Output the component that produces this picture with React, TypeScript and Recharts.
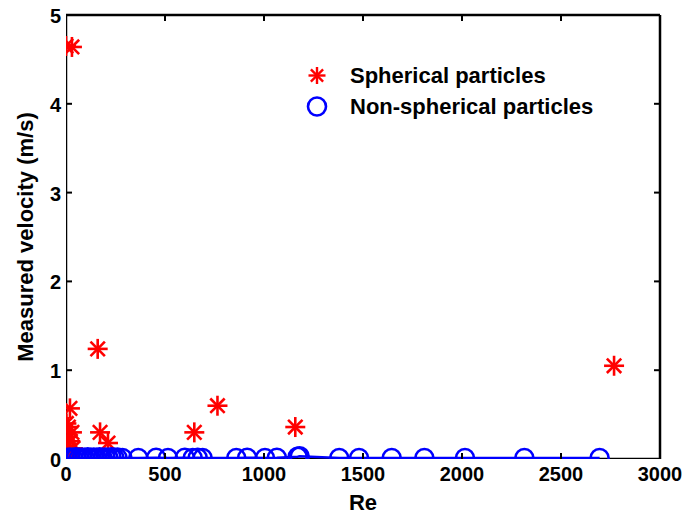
import React from 'react';
import { ScatterChart, Scatter, XAxis, YAxis, ReferenceLine, Legend } from 'recharts';

// ---- data ----
const sphericalRe = [0, 30, 20, 2, 12, 30, 8, 22, 5, 15, 35, 3, 18, 10, 160, 172, 212, 648, 765, 1158, 2768];
const sphericalVel = [4.65, 4.64, 0.57, 0.40, 0.36, 0.30, 0.25, 0.20, 0.15, 0.10, 0.12, 0.06, 0.04, 0.02, 1.24, 0.30, 0.18, 0.30, 0.60, 0.36, 1.05];

const nonSphericalRe = [5, 20, 35, 50, 65, 80, 95, 110, 125, 140, 155, 170, 185, 200, 215, 230, 245, 260, 285, 365, 455, 515, 600, 640, 665, 690, 860, 915, 1005, 1065, 1170, 1180, 1380, 1480, 1645, 1810, 2015, 2315, 2695];
const nonSphericalVel = [0.012, 0.015, 0.012, 0.02, 0.012, 0.015, 0.012, 0.02, 0.012, 0.015, 0.012, 0.02, 0.012, 0.015, 0.012, 0.02, 0.012, 0.015, 0.012, 0.012, 0.014, 0.012, 0.014, 0.012, 0.014, 0.012, 0.012, 0.014, 0.012, 0.014, 0.025, 0.03, 0.012, 0.012, 0.012, 0.012, 0.012, 0.012, 0.012];

const xTicks = [0, 500, 1000, 1500, 2000, 2500, 3000];
const yTicks = [0, 1, 2, 3, 4, 5];

// axis frame lines (bottom and left), drawn as series so data marks sit above them
const frameBottom = [{ re: 0, v: 0 }, { re: 3000, v: 0 }];
const frameLeft = [{ re: 0, v: 0 }, { re: 0, v: 5 }];

const sphericalData = sphericalRe.map((re, i) => ({ re, v: sphericalVel[i] }));
const nonSphericalData = nonSphericalRe
  .map((re, i) => ({ re, v: nonSphericalVel[i] }))
  .sort((a, b) => a.re - b.re);

// ---- layout ----
const W = 686;
const H = 518;
const MARGIN = { top: 15, right: 26, bottom: 9, left: 8 };
const Y_AXIS_W = 58;
const X_AXIS_H = 50;
const PLOT_LEFT = MARGIN.left + Y_AXIS_W;
const PLOT_RIGHT = W - MARGIN.right;
const PLOT_TOP = MARGIN.top;
const PLOT_BOTTOM = H - MARGIN.bottom - X_AXIS_H;
const TICK_LEN = 6;
const FONT = '"Liberation Sans", Arial, Helvetica, sans-serif';
const RED = '#ff0000';
const BLUE = '#0000ff';

const Asterisk = ({ cx, cy, r = 10, color = RED, sw = 2.6 }: any) => {
  const d = r * 0.72;
  return (
    <g stroke={color} strokeWidth={sw} strokeLinecap="butt">
      <line x1={cx - r} y1={cy} x2={cx + r} y2={cy} />
      <line x1={cx} y1={cy - r} x2={cx} y2={cy + r} />
      <line x1={cx - d} y1={cy - d} x2={cx + d} y2={cy + d} />
      <line x1={cx - d} y1={cy + d} x2={cx + d} y2={cy - d} />
    </g>
  );
};

const StarShape = (props: any) => <Asterisk cx={props.cx} cy={props.cy} />;
const CircleShape = (props: any) => (
  <circle cx={props.cx} cy={props.cy} r={9} fill="none" stroke={BLUE} strokeWidth={2.6} />
);
const NoShape = () => <g />;

const XTick = (props: any) => {
  const { x, y, payload } = props;
  const v = payload.value;
  const edge = v === xTicks[0] || v === xTicks[xTicks.length - 1];
  return (
    <g>
      {!edge && (
        <>
          <line x1={x} y1={PLOT_BOTTOM} x2={x} y2={PLOT_BOTTOM - TICK_LEN} stroke="#000" strokeWidth={2} />
          <line x1={x} y1={PLOT_TOP} x2={x} y2={PLOT_TOP + TICK_LEN} stroke="#000" strokeWidth={2} />
        </>
      )}
      <text x={x} y={y + 22} textAnchor="middle" fontFamily={FONT} fontWeight="bold" fontSize={20} fill="#000">
        {v}
      </text>
    </g>
  );
};

const YTick = (props: any) => {
  const { x, y, payload } = props;
  const v = payload.value;
  const edge = v === yTicks[0] || v === yTicks[yTicks.length - 1];
  return (
    <g>
      {!edge && (
        <>
          <line x1={PLOT_LEFT} y1={y} x2={PLOT_LEFT + TICK_LEN} y2={y} stroke="#000" strokeWidth={2} />
          <line x1={PLOT_RIGHT} y1={y} x2={PLOT_RIGHT - TICK_LEN} y2={y} stroke="#000" strokeWidth={2} />
        </>
      )}
      <text x={x - 5} y={y + 8} textAnchor="end" fontFamily={FONT} fontWeight="bold" fontSize={20} fill="#000">
        {v}
      </text>
    </g>
  );
};

const YLabel = () => {
  const cx = 33;
  const cy = (PLOT_TOP + PLOT_BOTTOM) / 2;
  return (
    <text
      x={cx}
      y={cy}
      transform={`rotate(-90, ${cx}, ${cy})`}
      textAnchor="middle"
      fontFamily={FONT}
      fontWeight="bold"
      fontSize={22}
      fill="#000"
    >
      Measured velocity (m/s)
    </text>
  );
};

const XLabel = () => {
  const cx = (PLOT_LEFT + PLOT_RIGHT) / 2;
  return (
    <text x={cx} y={510} textAnchor="middle" fontFamily={FONT} fontWeight="bold" fontSize={22} fill="#000">
      Re
    </text>
  );
};

const LegendContent = () => {
  const row: React.CSSProperties = { display: 'flex', alignItems: 'center', height: 31 };
  const txt: React.CSSProperties = {
    marginLeft: 16,
    fontFamily: FONT,
    fontWeight: 'bold',
    fontSize: 22,
    color: '#000',
    whiteSpace: 'nowrap',
    lineHeight: '31px',
  };
  return (
    <div>
      <div style={row}>
        <svg width={34} height={31}>
          <Asterisk cx={17} cy={15.5} r={8.5} sw={2.4} />
        </svg>
        <span style={txt}>Spherical particles</span>
      </div>
      <div style={row}>
        <svg width={34} height={31}>
          <circle cx={17} cy={15.5} r={9} fill="none" stroke={BLUE} strokeWidth={2.6} />
        </svg>
        <span style={txt}>Non-spherical particles</span>
      </div>
    </div>
  );
};

export default function App() {
  return (
    <div style={{ position: 'absolute', left: 0, top: 0, width: W, height: H, background: '#fff' }}>
      <ScatterChart width={W} height={H} margin={MARGIN}>
        <XAxis
          type="number"
          dataKey="re"
          domain={[0, 3000]}
          ticks={xTicks}
          interval={0}
          allowDataOverflow
          height={X_AXIS_H}
          tickSize={0}
          tickMargin={0}
          tickLine={false}
          axisLine={false}
          tick={<XTick />}
          label={<XLabel />}
        />
        <YAxis
          type="number"
          dataKey="v"
          domain={[0, 5]}
          ticks={yTicks}
          interval={0}
          allowDataOverflow
          width={Y_AXIS_W}
          tickSize={0}
          tickMargin={0}
          tickLine={false}
          axisLine={false}
          tick={<YTick />}
          label={<YLabel />}
        />
        <ReferenceLine y={5} stroke="#000" strokeWidth={2.5} />
        <ReferenceLine x={3000} stroke="#000" strokeWidth={2.5} />
        <Legend
          layout="vertical"
          align="center"
          verticalAlign="middle"
          wrapperStyle={{ left: 300, top: 60, width: 360, height: 62 }}
          content={() => <LegendContent />}
        />
        <Scatter
          legendType="none"
          data={frameBottom}
          shape={NoShape}
          line={{ stroke: '#000', strokeWidth: 2.5 }}
          lineType="joint"
          isAnimationActive={false}
        />
        <Scatter
          legendType="none"
          data={frameLeft}
          shape={NoShape}
          line={{ stroke: '#000', strokeWidth: 2.5 }}
          lineType="joint"
          isAnimationActive={false}
        />
        <Scatter
          name="Spherical particles"
          data={sphericalData}
          shape={StarShape}
          isAnimationActive={false}
        />
        <Scatter
          name="Non-spherical particles"
          data={nonSphericalData}
          shape={CircleShape}
          line={{ stroke: BLUE, strokeWidth: 2.5 }}
          lineType="joint"
          isAnimationActive={false}
        />
      </ScatterChart>
    </div>
  );
}
